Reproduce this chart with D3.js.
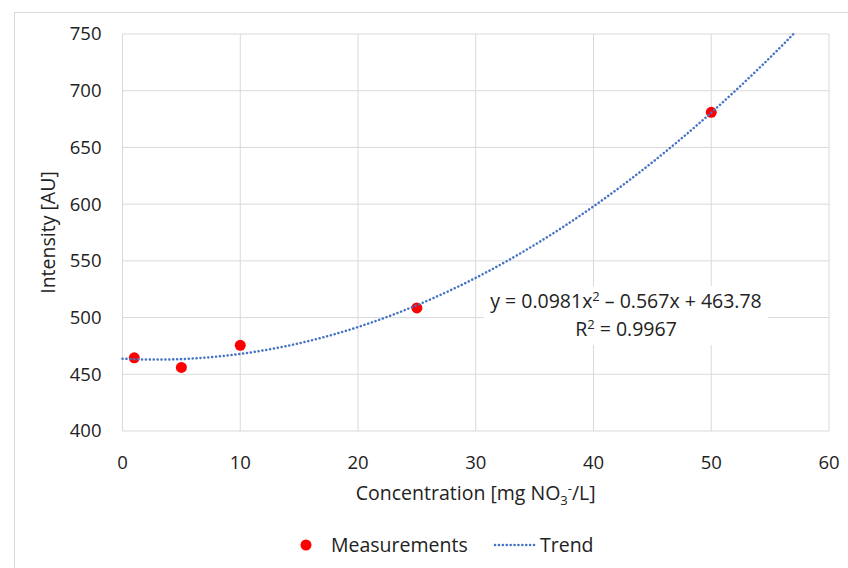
<!DOCTYPE html>
<html>
<head>
<meta charset="utf-8">
<script src="https://cdn.jsdelivr.net/npm/d3@7"></script>
<style>
  body { margin: 0; background: #fff; }
  text { font-family: "Open Sans", sans-serif; fill: #222; }
</style>
</head>
<body>
<div id="chart"></div>
<script>
// measured points
var concentrations = [1, 5, 10, 25, 50];
var intensities = [464.5, 456, 475.5, 508.5, 681];

// trend coefficients (y = a x^2 + b x + c)
var trendCoef = [0.0981, -0.567, 463.78];
var xTicks = [0, 10, 20, 30, 40, 50, 60];
var yTicks = [400, 450, 500, 550, 600, 650, 700, 750];

var width = 848, height = 568;
var margin = {left: 122.5, top: 34, right: 19, bottom: 137};
var fs = '19.5px';

var svg = d3.select('#chart').append('svg')
    .attr('width', width)
    .attr('height', height);

// outer chart border
svg.append('rect')
    .attr('x', 14.5).attr('y', 12.5)
    .attr('width', width).attr('height', height)
    .attr('fill', '#fff')
    .attr('stroke', '#d9d9d9');

var x = d3.scaleLinear().domain([0, 60]).range([margin.left, width - margin.right]);
var y = d3.scaleLinear().domain([400, 750]).range([height - margin.bottom, margin.top]);

// grid
var grid = svg.append('g').attr('stroke', '#d9d9d9').attr('stroke-width', 1);
grid.selectAll('.vg')
    .data(xTicks)
    .join('line')
    .attr('x1', d => x(d)).attr('x2', d => x(d))
    .attr('y1', y(400)).attr('y2', y(750));
grid.selectAll('.hg')
    .data(yTicks)
    .join('line')
    .attr('x1', x(0)).attr('x2', x(60))
    .attr('y1', d => y(d)).attr('y2', d => y(d));

// tick labels
svg.append('g').selectAll('text')
    .data(yTicks)
    .join('text')
    .attr('x', x(0) - 21)
    .attr('y', d => y(d))
    .attr('dy', '0.35em')
    .attr('text-anchor', 'end')
    .attr('font-size', '18.5px')
    .text(d => d);

svg.append('g').selectAll('text')
    .data(xTicks)
    .join('text')
    .attr('x', d => x(d))
    .attr('y', y(400) + 38)
    .attr('text-anchor', 'middle')
    .attr('font-size', '18.5px')
    .text(d => d);

// axis titles
svg.append('text')
    .attr('transform', `translate(55,${(y(400) + y(750)) / 2}) rotate(-90)`)
    .attr('text-anchor', 'middle')
    .attr('font-size', fs)
    .text('Intensity [AU]');

var xt = svg.append('text')
    .attr('x', (x(0) + x(60)) / 2)
    .attr('y', 500)
    .attr('text-anchor', 'middle')
    .attr('font-size', fs);
xt.append('tspan').text('Concentration [mg NO');
xt.append('tspan').attr('font-size', '13px').attr('dy', 5).text('3');
xt.append('tspan').attr('font-size', '13px').attr('dy', -12).text('-');
xt.append('tspan').attr('dy', 7).text('/L]');

// trend curve
var xMax = (-trendCoef[1] + Math.sqrt(trendCoef[1] * trendCoef[1] - 4 * trendCoef[0] * (trendCoef[2] - 750))) / (2 * trendCoef[0]);
var trendX = d3.range(0, xMax, 0.25).concat([xMax]);
var line = d3.line()
    .x(d => x(d))
    .y(d => y(trendCoef[0] * d * d + trendCoef[1] * d + trendCoef[2]));

// scatter
svg.append('g').selectAll('circle')
    .data(concentrations)
    .join('circle')
    .attr('cx', d => x(d))
    .attr('cy', (d, i) => y(intensities[i]))
    .attr('r', 5.5)
    .attr('fill', '#ff0000');

svg.append('path')
    .datum(trendX)
    .attr('d', line)
    .attr('fill', 'none')
    .attr('stroke', '#4472c4')
    .attr('stroke-width', 2.5)
    .attr('stroke-linecap', 'round')
    .attr('stroke-dasharray', '0.1 3.8');

// equation label
var eqG = svg.append('g');
eqG.append('rect')
    .attr('x', 484).attr('y', 286)
    .attr('width', 284).attr('height', 59)
    .attr('fill', '#fff');
eqG.append('text')
    .attr('x', 626).attr('y', 308)
    .attr('text-anchor', 'middle')
    .attr('font-size', fs)
    .html('y = 0.0981x<tspan dy="-7" font-size="13px">2</tspan><tspan dy="7"> – 0.567x + 463.78</tspan>');
eqG.append('text')
    .attr('x', 626).attr('y', 336)
    .attr('text-anchor', 'middle')
    .attr('font-size', fs)
    .html('R<tspan dy="-7" font-size="13px">2</tspan><tspan dy="7"> = 0.9967</tspan>');

// legend
var lg = svg.append('g');
lg.append('circle').attr('cx', 306).attr('cy', 545).attr('r', 5.5).attr('fill', '#ff0000');
lg.append('text').attr('x', 331).attr('y', 552).attr('font-size', fs).text('Measurements');
lg.append('line')
    .attr('x1', 495).attr('x2', 536)
    .attr('y1', 545).attr('y2', 545)
    .attr('stroke', '#4472c4')
    .attr('stroke-width', 2.5)
    .attr('stroke-linecap', 'round')
    .attr('stroke-dasharray', '0.1 3.8');
lg.append('text').attr('x', 540).attr('y', 552).attr('font-size', fs).text('Trend');
</script>
</body>
</html>
